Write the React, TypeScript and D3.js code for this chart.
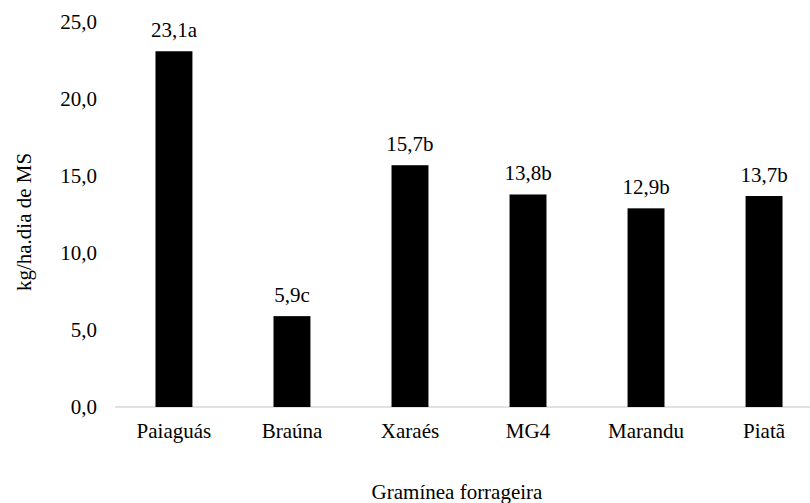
import React from 'react';
import * as d3 from 'd3';

// Produção de MS por gramínea (kg/ha.dia)
const categories = ['Paiaguás', 'Braúna', 'Xaraés', 'MG4', 'Marandu', 'Piatã'];
const values = [23.1, 5.9, 15.7, 13.8, 12.9, 13.7];
const letters = ['a', 'c', 'b', 'b', 'b', 'b'];
const yTicks = [0, 5, 10, 15, 20, 25];

const W = 810;
const H = 503;
const FONT = "'Times New Roman', Times, 'Liberation Serif', 'DejaVu Serif', 'Noto Serif', serif";

const fmt = (v: number) => v.toFixed(1).replace('.', ',');

const txt: React.CSSProperties = { fontFamily: FONT, fontSize: 21, fill: '#000' };

export default function App() {
    // scales
    const x = d3.scaleBand<string>()
        .domain(categories)
        .range([115, 823])
        .paddingInner(0.687)
        .paddingOuter(0.343);

    const y = d3.scaleLinear()
        .domain([0, 25])
        .range([407, 22]);

    return (
        <svg width={W} height={H} style={{ position: 'absolute', left: 0, top: 0, background: '#fff' }}>
            {/* y tick labels */}
            {yTicks.map(t => (
                <text key={t} x={97} y={y(t)} dy="0.35em" textAnchor="end" style={txt}>
                    {fmt(t)}
                </text>
            ))}

            {/* baseline */}
            <line x1={115} x2={W} y1={y(0)} y2={y(0)} stroke="#d9d9d9" strokeWidth={1.5} />

            {/* bars */}
            {categories.map((c, i) => (
                <g key={c}>
                    <rect x={x(c)} y={y(values[i])} width={x.bandwidth()} height={y(0) - y(values[i])}
                        fill="#000" />
                    <text x={(x(c) ?? 0) + x.bandwidth() / 2} y={y(values[i]) - 14.5} textAnchor="middle"
                        style={txt}>
                        {fmt(values[i]) + letters[i]}
                    </text>
                    <text x={(x(c) ?? 0) + x.bandwidth() / 2} y={438} textAnchor="middle" style={txt}>
                        {c}
                    </text>
                </g>
            ))}

            {/* axis titles */}
            <text x={457} y={499} textAnchor="middle" style={txt}>Gramínea forrageira</text>
            <text transform={`translate(31, 222) rotate(-90)`} textAnchor="middle" style={txt}>
                kg/ha.dia de MS
            </text>
        </svg>
    );
}
